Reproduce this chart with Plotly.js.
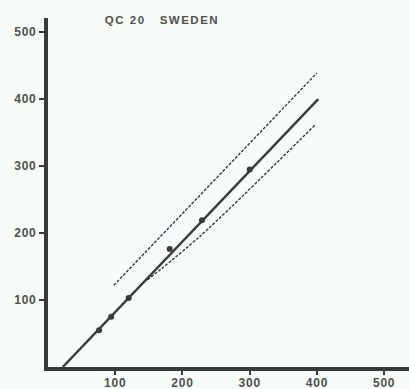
<!DOCTYPE html>
<html>
<head>
<meta charset="utf-8">
<script src="https://cdn.plot.ly/plotly-3.0.1.min.js"></script>
<style>
  html, body { margin: 0; padding: 0; background: #f6fcf7; }
  #chart { width: 409px; height: 389px; }
  #chart .gtitle { letter-spacing: 1.5px; }
  #chart .xtick text, #chart .ytick text { letter-spacing: 0.8px; }
</style>
</head>
<body>
<div id="chart"></div>
<script>
// Measured samples
const sampleX = [76, 94, 120, 181, 229, 300];
const sampleY = [55, 75, 103, 176, 219, 295];

// Fitted regression line
const fitX = [22, 402];
const fitY = [0, 400];

// Upper and lower limit lines
const upperX = [98, 400];
const upperY = [122, 439];
const lowerX = [148, 226, 398];
const lowerY = [130, 195, 362];

// Axis ticks
const tickValues = [100, 200, 300, 400, 500];
const tickLabels = ['100', '200', '300', '400', '500'];

const ink = '#3a3a3a';
const dashStyle = '3px,1.5px';

const traces = [
  { x: upperX, y: upperY, mode: 'lines', line: { color: ink, width: 1.4, dash: dashStyle }, hoverinfo: 'skip' },
  { x: lowerX, y: lowerY, mode: 'lines', line: { color: ink, width: 1.4, dash: dashStyle, shape: 'spline', smoothing: 0.8 }, hoverinfo: 'skip' },
  { x: fitX, y: fitY, mode: 'lines', line: { color: ink, width: 2.4 }, hoverinfo: 'skip' },
  { x: sampleX, y: sampleY, mode: 'markers', marker: { color: ink, size: 6 } }
];

const tickFont = { family: 'Liberation Sans, Arial, sans-serif', size: 12, color: '#4f4f4f', weight: 'bold' };

const layout = {
  width: 409,
  height: 389,
  showlegend: false,
  paper_bgcolor: '#f6fcf7',
  plot_bgcolor: '#f6fcf7',
  margin: { l: 48, r: 0, t: 18, b: 22 },
  title: {
    text: 'QC 20&nbsp;&nbsp;&nbsp;SWEDEN',
    font: { family: 'Liberation Sans, Arial, sans-serif', size: 11.5, color: '#505050', weight: 'bold' },
    x: 162 / 409, xref: 'container', xanchor: 'center',
    y: 1 - 20 / 389, yref: 'container', yanchor: 'middle'
  },
  xaxis: {
    range: [0, 537],
    tickvals: tickValues,
    ticktext: tickLabels,
    ticks: 'outside', ticklen: 4, tickwidth: 2, tickcolor: ink,
    ticklabelstandoff: -2,
    showline: true, linecolor: ink, linewidth: 4,
    showgrid: false, zeroline: false,
    tickfont: tickFont
  },
  yaxis: {
    range: [0, 521],
    tickvals: tickValues,
    ticktext: tickLabels,
    ticks: 'outside', ticklen: 5, tickwidth: 2, tickcolor: ink,
    showline: true, linecolor: ink, linewidth: 4,
    showgrid: false, zeroline: false,
    tickfont: tickFont
  }
};

Plotly.newPlot('chart', traces, layout, { displayModeBar: false, staticPlot: true });
</script>
</body>
</html>
